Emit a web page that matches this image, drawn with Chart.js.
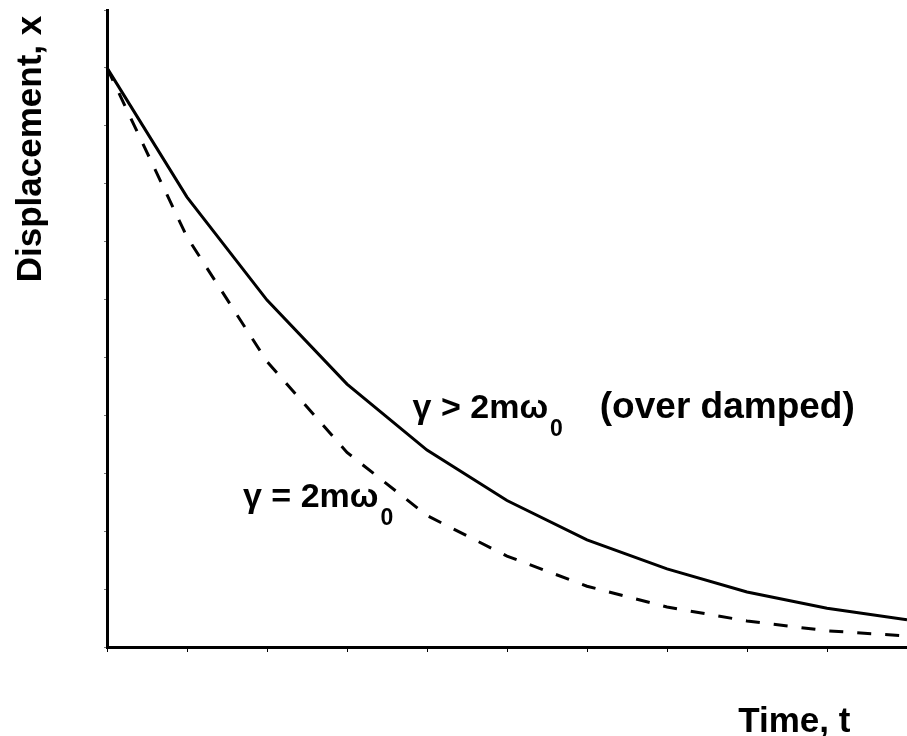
<!DOCTYPE html>
<html>
<head>
<meta charset="utf-8">
<script src="https://cdn.jsdelivr.net/npm/chart.js@4.4.0/dist/chart.umd.min.js"></script>
<style>
  html, body { margin: 0; padding: 0; background: #fff; }
  #wrap { width: 907px; height: 736px; }
</style>
</head>
<body>
<div id="wrap"><canvas id="dampChart" width="907" height="736"></canvas></div>
<script>
// time steps along the x axis (one tick each)
const timeSteps = [0, 1, 2, 3, 4, 5, 6, 7, 8, 9, 10];

// over damped curve (solid)
const overDamped = [10.0, 7.77, 5.99, 4.54, 3.40, 2.53, 1.85, 1.35, 0.95, 0.67, 0.47];

// critically damped curve (dashed)
const criticalDamped = [10.0, 7.08, 4.93, 3.36, 2.27, 1.57, 1.05, 0.69, 0.45, 0.28, 0.19];

const yMin = 0;
const yMax = 11;

const xTitle = "Time, t";
const yTitle = "Displacement, x";

// curve labels, anchored in data units (x, y = baseline)
const curveLabels = [
  { main: "γ > 2mω", sub: "0", tail: "(over damped)", x: 3.82, y: 3.95, tailX: 6.16 },
  { main: "γ = 2mω", sub: "0", tail: "", x: 1.70, y: 2.42, tailX: 0 },
];

const FONT = "'Liberation Sans', Arial, Helvetica, sans-serif";

const textPlugin = {
  id: "textPlugin",
  afterDraw(chart) {
    const ctx = chart.ctx;
    const xs = chart.scales.x;
    const ys = chart.scales.y;
    ctx.save();
    ctx.fillStyle = "#000";
    ctx.textBaseline = "alphabetic";
    ctx.textAlign = "left";

    curveLabels.forEach((lab) => {
      const px = xs.getPixelForValue(lab.x);
      const py = ys.getPixelForValue(lab.y);
      ctx.font = "bold 34px " + FONT;
      ctx.fillText(lab.main, px, py);
      const w = ctx.measureText(lab.main).width;
      ctx.font = "bold 23px " + FONT;
      ctx.fillText(lab.sub, px + w + 2, py + 18);
      if (lab.tail) {
        ctx.font = "bold 37px " + FONT;
        ctx.fillText(lab.tail, xs.getPixelForValue(lab.tailX), py);
      }
    });

    // x axis title, bottom right
    ctx.font = "bold 35px " + FONT;
    ctx.fillText(xTitle, xs.getPixelForValue(7.89), chart.height - 4);

    // y axis title, rotated, near the top of the axis
    ctx.translate(41, ys.getPixelForValue(8.6));
    ctx.rotate(-Math.PI / 2);
    ctx.textAlign = "center";
    ctx.fillText(yTitle, 0, 0);
    ctx.restore();
  },
};

const ctx = document.getElementById("dampChart").getContext("2d");
const chart = new Chart(ctx, {
  type: "line",
  data: {
    labels: timeSteps,
    datasets: [
      {
        label: "over damped",
        data: overDamped,
        borderColor: "#000",
        borderWidth: 3,
        pointRadius: 0,
        tension: 0,
        fill: false,
      },
      {
        label: "critically damped",
        data: criticalDamped,
        borderColor: "#000",
        borderWidth: 3,
        borderDash: [14, 14],
        pointRadius: 0,
        tension: 0,
        fill: false,
      },
    ],
  },
  options: {
    responsive: false,
    animation: false,
    events: [],
    layout: { padding: { top: 10, right: 0, bottom: 0, left: 0 } },
    plugins: {
      legend: { display: false },
      tooltip: { enabled: false },
    },
    scales: {
      x: {
        offset: false,
        grid: {
          display: true,
          drawOnChartArea: false,
          drawTicks: true,
          tickLength: 5,
          color: "#000",
          lineWidth: 1,
        },
        border: { display: true, color: "#000", width: 3 },
        ticks: { display: false },
        afterFit(scale) {
          scale.height = 89;
        },
      },
      y: {
        min: yMin,
        max: yMax,
        grid: {
          display: true,
          drawOnChartArea: false,
          drawTicks: true,
          tickLength: 3,
          color: "#777",
          lineWidth: 1,
        },
        border: { display: true, color: "#000", width: 3 },
        ticks: { display: false, stepSize: 1 },
        afterFit(scale) {
          scale.width = 107;
        },
      },
    },
  },
  plugins: [textPlugin],
});
</script>
</body>
</html>
